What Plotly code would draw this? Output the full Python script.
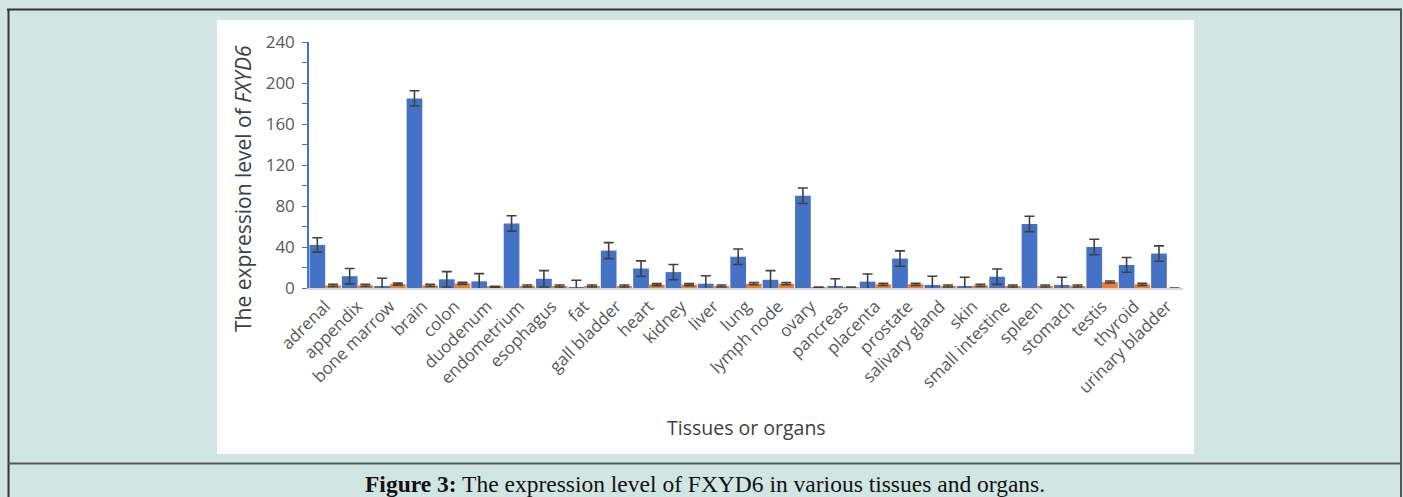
import plotly.graph_objects as go

tissues = ["adrenal", "appendix", "bone marrow", "brain", "colon", "duodenum", "endometrium",
           "esophagus", "fat", "gall bladder", "heart", "kidney", "liver", "lung", "lymph node",
           "ovary", "pancreas", "placenta", "prostate", "salivary gland", "skin", "small intestine",
           "spleen", "stomach", "testis", "thyroid", "urinary bladder"]
blue_vals = [42, 11.5, 1.5, 185, 8.5, 6.5, 63, 9, 0.5, 36.5, 19, 15.5, 4.2, 30.5, 8, 90, 1,
             6.2, 28.7, 3, 1, 11, 62.5, 3, 40, 22.5, 33.6]
blue_err = [7, 7.5, 8, 7.5, 7.5, 7.5, 7.5, 8, 7, 7.8, 7.5, 7.5, 7.8, 7.5, 9, 7.5, 8, 7.5,
            7.5, 8.5, 9.5, 7.5, 7.5, 7.5, 7.5, 7.2, 7.5]
orange_vals = [2.5, 2.5, 3.8, 2.5, 4.5, 1.2, 2, 2, 2, 2, 3.3, 3.3, 2, 4.2, 4.2, 0.6, 0.6,
               3.6, 3.6, 2, 2.5, 2, 2, 2, 5.9, 3.6, 0]
orange_err = [1, 1, 1, 1, 1, 0.5, 1, 1, 1, 1, 1, 1, 1, 1, 1, 0.3, 0.3, 1, 1, 1, 1, 1, 1, 1,
              1, 1, 0]
y_ticks = [0, 40, 80, 120, 160, 200, 240]

W_PAGE, H_PAGE = 1403, 497
L, R, T, B = 309, 1183, 42, 288
PW, PH = R - L, B - T

def px(x):
    return (x - L) / PW

def py(y):
    return (B - y) / PH

BLUE = "#4472C4"
ORANGE = "#ED7D31"
TEAL = "#D1E5E3"
FONT = "Open Sans"

fig = go.Figure()
fig.add_trace(go.Bar(x=tissues, y=blue_vals, marker_color=BLUE, marker_line_width=0,
                     error_y=dict(type="data", array=blue_err, color="#404040", thickness=1.6, width=5)))
fig.add_trace(go.Bar(x=tissues, y=orange_vals, marker_color=ORANGE, marker_line_width=0,
                     error_y=dict(type="data", array=orange_err, color="#404040", thickness=1.6, width=5)))

shapes = [
    dict(type="rect", xref="paper", yref="paper", x0=px(217), x1=px(1194), y0=py(454), y1=py(20),
         fillcolor="white", line_width=0, layer="below"),
    dict(type="line", xref="paper", yref="paper", x0=px(7), x1=px(1402), y0=py(9.5), y1=py(9.5),
         line=dict(color="#333333", width=2)),
    dict(type="line", xref="paper", yref="paper", x0=px(8.5), x1=px(8.5), y0=py(9), y1=py(500),
         line=dict(color="#333333", width=2)),
    dict(type="line", xref="paper", yref="paper", x0=px(1401), x1=px(1401), y0=py(9), y1=py(500),
         line=dict(color="#555555", width=2)),
    dict(type="line", xref="paper", yref="paper", x0=px(8), x1=px(1401), y0=py(463.5), y1=py(463.5),
         line=dict(color="#555555", width=2)),
]

annotations = [
    dict(text="The expression level of <i>FXYD6</i>", xref="paper", yref="paper",
         x=px(243), y=py(189), textangle=-90, showarrow=False,
         font=dict(family=FONT, size=21, color="#404040"), xanchor="center", yanchor="middle"),
    dict(text="Tissues or organs", xref="paper", yref="paper", x=px(746), y=py(427),
         showarrow=False, font=dict(family=FONT, size=19.5, color="#404040"),
         xanchor="center", yanchor="middle"),
    dict(text="<b>Figure 3:</b> The expression level of FXYD6 in various tissues and organs.",
         xref="paper", yref="paper", x=px(705), y=py(484), showarrow=False,
         font=dict(family="Liberation Serif", size=23.5, color="#111111"),
         xanchor="center", yanchor="middle"),
]

fig.update_layout(
    width=W_PAGE, height=H_PAGE,
    margin=dict(l=L, r=W_PAGE - R, t=T, b=H_PAGE - B, autoexpand=False),
    paper_bgcolor=TEAL, plot_bgcolor="white",
    barmode="group", bargap=0.03, bargroupgap=0,
    showlegend=False,
    shapes=shapes, annotations=annotations,
    xaxis=dict(showline=True, linecolor="#D9D9D9", linewidth=1.5, ticks="", tickangle=-45,
               tickfont=dict(family=FONT, size=17, color="#595959"), showgrid=False,
               fixedrange=True),
    yaxis=dict(range=[0, 240], tickvals=y_ticks, showline=True, linecolor=BLUE, linewidth=1.5,
               ticks="outside", ticklen=5, tickcolor=BLUE, tickwidth=1.2,
               minor=dict(dtick=20, ticks="outside", ticklen=5, tickcolor=BLUE, tickwidth=1.2),
               tickfont=dict(family=FONT, size=17, color="#595959"), showgrid=False,
               zeroline=False, ticklabelstandoff=4, fixedrange=True),
)

fig.write_html("out.html", config={"displayModeBar": False},
               post_script="document.body.style.margin='0';document.body.style.overflow='hidden';")
